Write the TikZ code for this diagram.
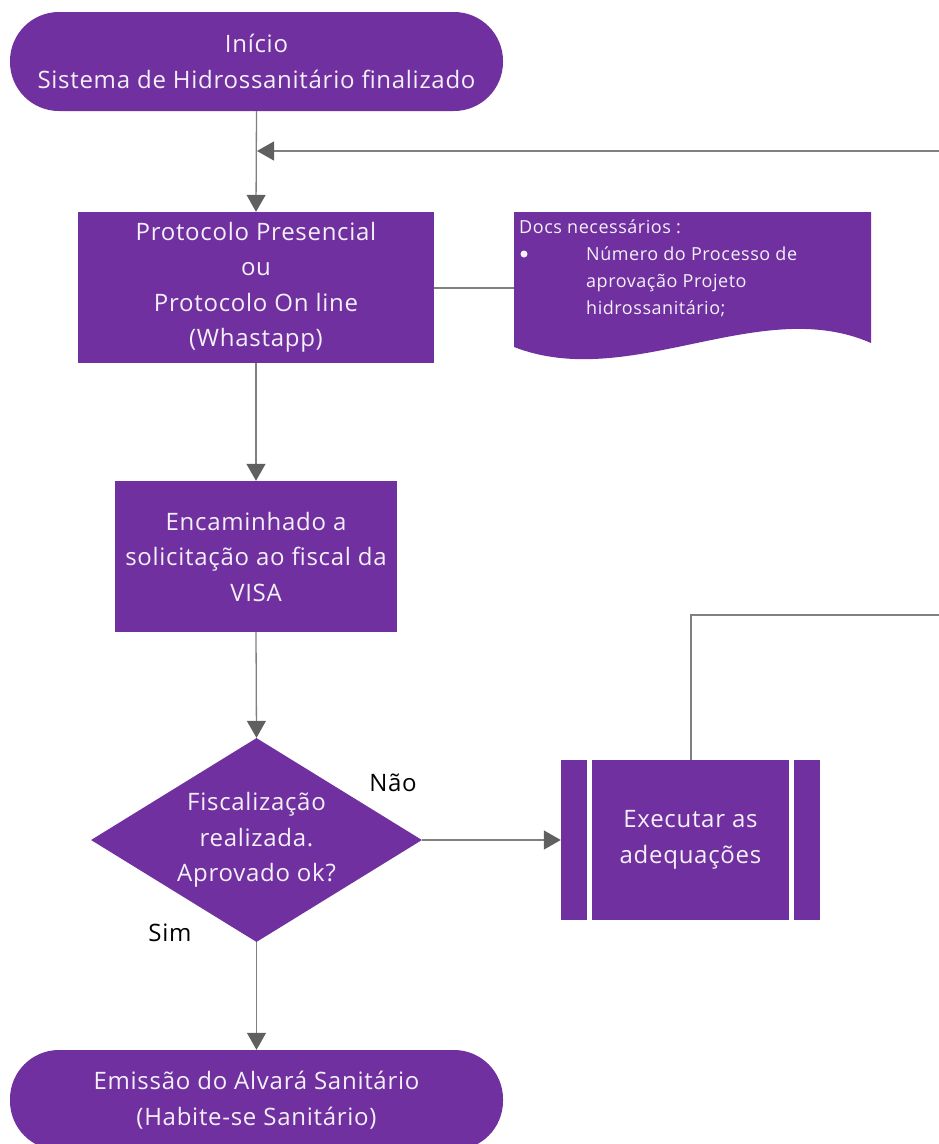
\documentclass[tikz,border=0pt]{standalone}
\usepackage{fontspec}
\setmainfont{Open Sans}[LetterSpace=3]
\usetikzlibrary{arrows.meta,shapes.geometric}
\definecolor{vio}{HTML}{7030A0}
\definecolor{lin}{HTML}{808080}
\definecolor{tip}{HTML}{606060}
\definecolor{txt}{HTML}{F4F0F8}
\tikzset{
  shp/.style={fill=vio, draw=none, inner sep=0pt, text=txt, align=center,
     font=\fontsize{24}{35.5}\selectfont},
  term/.style={shp, rounded corners=49pt},
  conn/.style={draw=lin, line width=1.3pt},
  arr/.style={conn, -{Triangle[width=19pt,length=17pt,fill=tip,color=tip]}},
  lbl/.style={text=black, font=\fontsize{24}{30}\selectfont, inner sep=0pt},
  small/.style={text=txt, font=\fontsize{18}{27}\selectfont, inner sep=0pt, anchor=base west},
  bul/.style={circle, fill=txt, inner sep=0pt, minimum size=7pt}
}
\begin{document}
\begin{tikzpicture}[x=1pt,y=-1pt]
\useasboundingbox (0,0) rectangle (939,1144);
\clip (0,0) rectangle (939,1144);
% nodes
\node[term, minimum width=493pt, minimum height=99pt] (start) at (256.5,61.5)
  {Início\\Sistema de Hidrossanitário finalizado};
\node[shp, minimum width=356pt, minimum height=151pt] (proto) at (256,287.5)
  {Protocolo Presencial\\ou\\Protocolo On line\\(Whastapp)};
% document shape
\fill[vio] (514,212) -- (871,212) -- (871,343)
  .. controls (760,294) and (630,392) .. (514,347) -- cycle;
\coordinate (docw) at (514,288);
\node[small] (doch) at (519,233) {Docs necessários :};
\node[bul] (docb) at (524,254) {};
\node[small] (doc1) at (586,260) {Número do Processo de};
\node[small] (doc2) at (586,287) {aprovação Projeto};
\node[small] (doc3) at (586,314) {hidrossanitário;};
\node[shp, minimum width=282pt, minimum height=151pt] (enc) at (256,556.5)
  {Encaminhado a\\solicitação ao fiscal da\\VISA};
% decision
\node[fill=vio, draw=none, shape=diamond, inner sep=0pt, minimum width=331pt, minimum height=204pt] (dec) at (256.5,840) {};
\node[shp, fill=none] (dect) at (256.5,840) {Fiscalização\\realizada.\\Aprovado ok?};
% predefined process
\node[shp, minimum width=259pt, minimum height=160pt] (proc) at (690.5,840) {Executar as\\adequações};
\draw[white, line width=5pt] (589.5,760) -- (589.5,920) (791.5,760) -- (791.5,920);
\node[term, minimum width=493pt, minimum height=100pt] (end) at (256.5,1100)
  {Emissão do Alvará Sanitário\\(Habite-se Sanitário)};
% labels
\node[lbl] (nao) at (393,783) {Não};
\node[lbl] (sim) at (170,933) {Sim};
% coordinates for loops
\coordinate (fbR) at (939,151);
\coordinate (fbL) at (257,151);
\coordinate (loopA) at (691,615);
\coordinate (loopB) at (939,615);
% connectors
\draw[arr] (start.south) -- (proto.north);
\draw[arr] (fbR) -- (fbL);
\draw[conn] (proto.east |- docw) -- (docw);
\draw[arr] (proto.south) -- (enc.north);
\draw[arr] (enc.south) -- (dec.north);
\draw[arr] (dec.east) -- (proc.west);
\draw[conn] (proc.north -| loopA) -- (loopA) -- (loopB);
\draw[arr] (dec.south) -- (end.north);
\end{tikzpicture}
\end{document}
